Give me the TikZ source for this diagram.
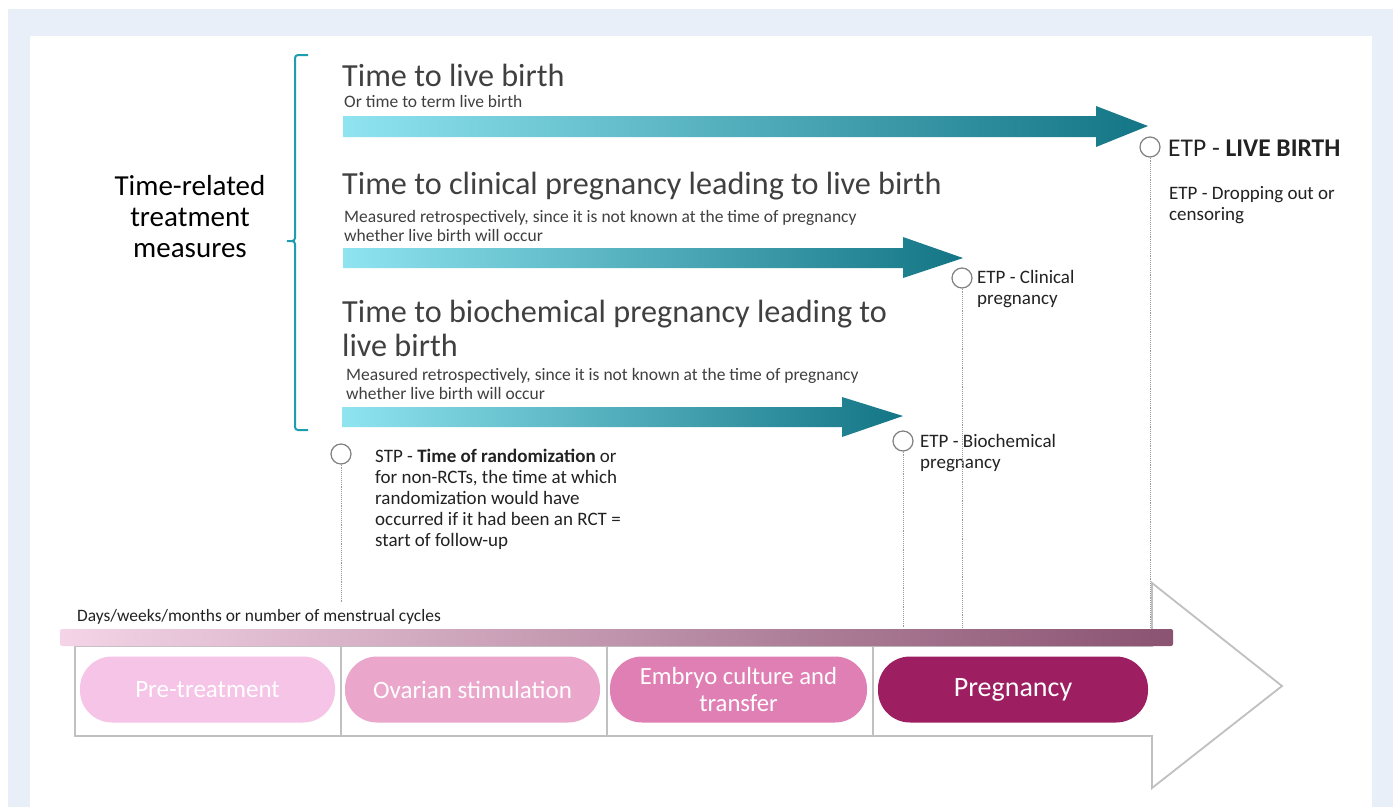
\documentclass[tikz,border=0pt]{standalone}
\usepackage{fontspec}
\setmainfont{Carlito}
\usetikzlibrary{positioning}
\definecolor{pageblue}{HTML}{E8EFF9}
\definecolor{bracetal}{HTML}{1F9DB0}
\definecolor{arrlight}{HTML}{8FE4F0}
\definecolor{arrdark}{HTML}{137585}
\definecolor{inkgray}{HTML}{404040}
\definecolor{inkdark}{HTML}{222222}
\definecolor{ringgray}{HTML}{808080}
\definecolor{guidegray}{HTML}{9A9A9A}
\definecolor{framegray}{HTML}{C0C0C0}
\definecolor{barlight}{HTML}{F4D4E6}
\definecolor{bardark}{HTML}{8A5371}
\definecolor{pretreat}{HTML}{F5C4E6}
\definecolor{ovarian}{HTML}{EAA7CB}
\definecolor{embryo}{HTML}{E07FB4}
\definecolor{pregcol}{HTML}{9D1F62}

\begin{document}
\begin{tikzpicture}[x=1pt, y=-1pt,
  txt/.style={inner sep=0pt, anchor=base west, align=left, text=inkgray},
  title/.style={txt, font=\fontsize{32.2}{34}\selectfont},
  remark/.style={txt, font=\fontsize{17.5}{19}\selectfont},
  etptext/.style={txt, text=inkdark, font=\fontsize{19}{21}\selectfont},
  etpdot/.style={circle, draw=ringgray, fill=white, line width=1.2pt, minimum size=20pt, inner sep=0pt},
  guide/.style={densely dotted, draw=guidegray, line width=0.9pt},
  phase/.style={rounded corners=32pt, minimum height=66pt, inner sep=0pt, text=white, align=center, font=\fontsize{25}{27}\selectfont},
  outline/.style={draw=framegray, line width=1.8pt}
]
% page and panel
\useasboundingbox (0,0) rectangle (1393,807);
\fill[white] (0,0) rectangle (1393,807);
\fill[pageblue] (8,9) rectangle (1393,807);
\fill[white] (30,36) rectangle (1372,807);

% brace and its caption (base of a multi-line node = last line)
\draw[bracetal, line width=2pt, rounded corners=3pt] (308,55) -- (295,55) -- (295,241) -- (285,241) -- (295,241) -- (295,430) -- (308,430);
\node[txt, anchor=base, align=center, font=\fontsize{29}{31}\selectfont, text=black] (measures) at (190,257) {Time-related\\treatment\\measures};

% time to live birth
\node[title] (tlb) at (342,86) {Time to live birth};
\node[remark] (tlbnote) at (344,107) {Or time to term live birth};
\shade[left color=arrlight, right color=arrdark] (343,116) -- (1096,116) -- (1096,106) -- (1148,126) -- (1096,147) -- (1096,137) -- (343,137) -- cycle;
\node[etpdot] (lb) at (1150,147) {};
\node[txt, text=inkdark, font=\fontsize{25.5}{27}\selectfont] (lbtext) at (1168,156) {ETP - \textbf{LIVE BIRTH}};
\node[etptext] (drop) at (1169,220) {ETP - Dropping out or\\censoring};

% time to clinical pregnancy
\node[title] (tcp) at (342,194) {Time to clinical pregnancy leading to live birth};
\node[remark] (tcpnote) at (344,241) {Measured retrospectively, since it is not known at the time of pregnancy\\whether live birth will occur};
\shade[left color=arrlight, right color=arrdark] (343,248) -- (903,248) -- (903,237) -- (963,258) -- (903,278) -- (903,268) -- (343,268) -- cycle;
\node[etpdot] (cp) at (962,278) {};
\node[etptext] (cptext) at (977,304) {ETP - Clinical\\pregnancy};

% time to biochemical pregnancy
\node[title] (tbp) at (342,356) {Time to biochemical pregnancy leading to\\live birth};
\node[remark] (tbpnote) at (346,399) {Measured retrospectively, since it is not known at the time of pregnancy\\whether live birth will occur};
\shade[left color=arrlight, right color=arrdark] (342,407) -- (842,407) -- (842,397) -- (903,416) -- (842,437) -- (842,427) -- (342,427) -- cycle;
\node[etpdot] (bp) at (903,441) {};
\node[etptext] (bptext) at (920,468) {ETP - Biochemical\\pregnancy};

% start point
\node[etpdot] (stp) at (341,454) {};
\node[etptext] (stptext) at (375,546) {STP - \textbf{Time of randomization} or\\for non-RCTs, the time at which\\randomization would have\\occurred if it had been an RCT =\\start of follow-up};

% timeline
\node[txt, text=inkdark, font=\fontsize{17.4}{19}\selectfont] (units) at (77,621) {Days/weeks/months or number of menstrual cycles};
\draw[outline] (75,646) -- (75,736) -- (1152,736) -- (1152,788) -- (1282,686) -- (1152,583) -- (1152,646) -- cycle;
\draw[outline] (341,646) -- (341,736);
\draw[outline] (607,646) -- (607,736);
\draw[outline] (873,646) -- (873,736);
\coordinate (stpend) at (341,602);
\coordinate (bpend) at (903,628);
\coordinate (cpend) at (962,628);
\coordinate (lbend) at (1150,629);
\draw[guide] (stp.south) -- (stpend);
\draw[guide] (bp.south) -- (bpend);
\draw[guide] (cp.south) -- (cpend);
\draw[guide] (lb.south) -- (lbend);
\shade[left color=barlight, right color=bardark, rounded corners=2pt] (60,629) rectangle (1173,646);

% phases
\node[phase, fill=pretreat, minimum width=255pt] (pre) at (207.5,689.5) {Pre-treatment};
\node[phase, fill=ovarian, minimum width=255pt] (ova) at (472.5,689.5) {Ovarian stimulation};
\node[phase, fill=embryo, minimum width=257pt, font=\fontsize{24.7}{27}\selectfont] (emb) at (738.5,689.5) {Embryo culture and\\transfer};
\node[phase, fill=pregcol, minimum width=270pt, font=\fontsize{28}{30}\selectfont] (preg) at (1013,689.5) {Pregnancy};
\end{tikzpicture}
\end{document}
